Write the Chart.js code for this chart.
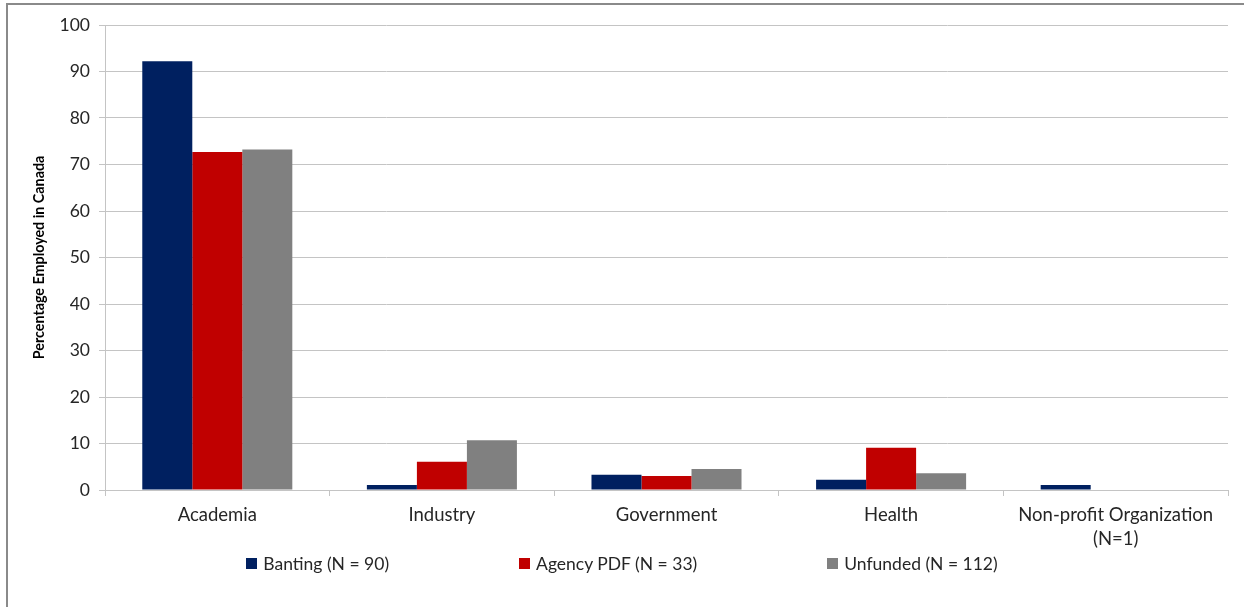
<!DOCTYPE html>
<html>
<head>
<meta charset="utf-8">
<script src="https://cdn.jsdelivr.net/npm/chart.js@4"></script>
<style>
  html, body { margin: 0; padding: 0; background: #fff; }
  #wrap { position: relative; width: 1244px; height: 607px; overflow: hidden; }
  #frame { position: absolute; left: 6px; top: 3px; right: 0; bottom: 0;
           border-top: 2px solid #8a8a8a; border-left: 2px solid #8a8a8a; }
  canvas { position: absolute; left: 0; top: 0; }
  #legend { position: absolute; left: 0; right: 0; top: 553px; display: flex;
            justify-content: center; gap: 130px; font: 17.5px Lato, sans-serif; color: #262626; }
  #legend span.item { display: flex; align-items: center; }
  #legend span.box { display: inline-block; width: 11px; height: 11px; margin-right: 6px; }
</style>
</head>
<body>
<div id="wrap">
  <div id="frame"></div>
  <canvas id="chart" width="1244" height="607"></canvas>
  <div id="legend"></div>
</div>
<script>
const categories = ['Academia', 'Industry', 'Government', 'Health', ['Non-profit Organization', '(N=1)']];
const seriesNames = ['Banting (N = 90)', 'Agency PDF (N = 33)', 'Unfunded (N = 112)'];
const banting = [92.2, 1.1, 3.3, 2.2, 1.1];
const agencyPdf = [72.7, 6.1, 3.0, 9.1, 0];
const unfunded = [73.2, 10.7, 4.5, 3.6, 0];
const colors = ['#002060', '#C00000', '#808080'];
const yTicks = [0, 10, 20, 30, 40, 50, 60, 70, 80, 90, 100];

const gridColor = '#c4c4c4';
const textColor = '#262626';

new Chart(document.getElementById('chart').getContext('2d'), {
    type: 'bar',
    data: {
        labels: categories,
        datasets: [banting, agencyPdf, unfunded].map((vals, i) => ({
            label: seriesNames[i],
            data: vals,
            backgroundColor: colors[i],
            categoryPercentage: 0.668,
            barPercentage: 1.0
        }))
    },
    options: {
        responsive: false,
        animation: false,
        layout: { padding: { top: 25, right: 16, left: 0, bottom: 0 } },
        plugins: { legend: { display: false }, tooltip: { enabled: false } },
        scales: {
            x: {
                grid: { drawOnChartArea: false, color: gridColor, tickLength: 6, offset: true },
                border: { color: gridColor },
                ticks: { color: textColor, font: { family: 'Lato', size: 18.5, lineHeight: 1.3 }, padding: 7, maxRotation: 0, autoSkip: false },
                afterFit: s => { s.height = 117; }
            },
            y: {
                min: 0, max: 100,
                afterBuildTicks: s => { s.ticks = yTicks.map(v => ({ value: v })); },
                grid: { color: gridColor, tickLength: 6 },
                border: { color: gridColor },
                ticks: { color: textColor, font: { family: 'Lato', size: 17.5 }, padding: 9 },
                title: {
                    display: true,
                    text: 'Percentage Employed in Canada',
                    color: '#000',
                    font: { family: 'Lato', size: 14.3, weight: 'bold' },
                    padding: { top: 31 }
                },
                afterFit: s => { s.width = 105; }
            }
        }
    }
});

const legend = document.getElementById('legend');
seriesNames.forEach((name, i) => {
    const item = document.createElement('span');
    item.className = 'item';
    const box = document.createElement('span');
    box.className = 'box';
    box.style.background = colors[i];
    item.appendChild(box);
    item.appendChild(document.createTextNode(name));
    legend.appendChild(item);
});
</script>
</body>
</html>
